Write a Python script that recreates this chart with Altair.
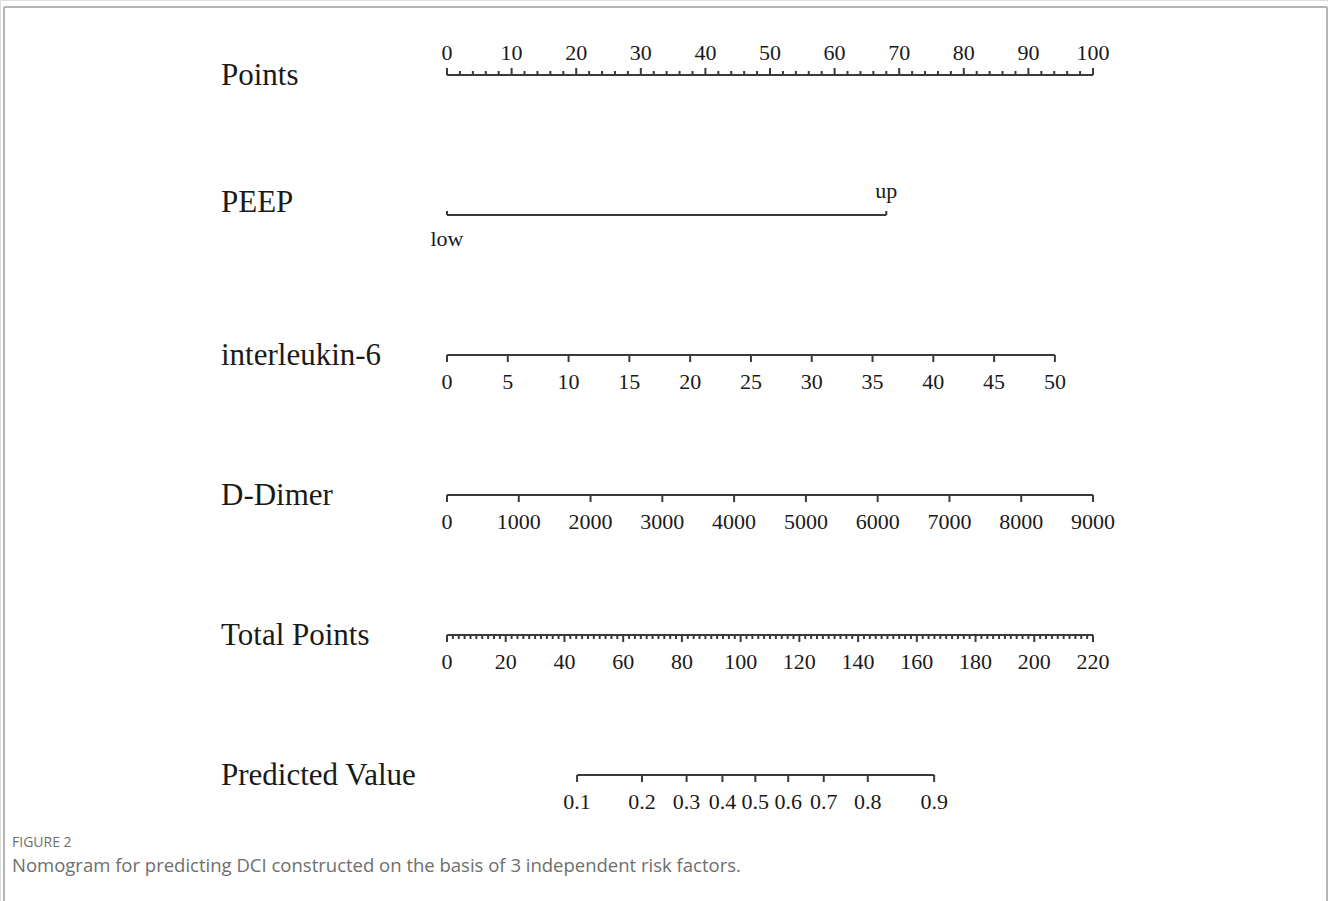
import altair as alt
import pandas as pd

# ---- nomogram content -------------------------------------------------------
ROW_NAMES = ["Points", "PEEP", "interleukin-6", "D-Dimer", "Total Points", "Predicted Value"]

# Points scale (0-100): labelled every 10, small ticks every 2
points_major = list(range(0, 101, 10))
points_minor = [v for v in range(0, 101, 2) if v % 10]

# PEEP: two levels and the points each one earns
peep_levels = ["low", "up"]
peep_score = [0, 68]

# interleukin-6: values 0-50, top value worth 94.1 points
il6_values = list(range(0, 51, 5))
il6_max_score = 94.1

# D-Dimer: values 0-9000, top value worth 100 points
ddimer_values = list(range(0, 9001, 1000))
ddimer_max_score = 100.0

# Total points: 0-220, labelled every 20, small ticks every 2
total_major = list(range(0, 221, 20))
total_minor = [v for v in range(0, 221, 2) if v % 20]
total_max = 220

# Predicted value and the total points at which each probability sits
pred_labels = ["0.1", "0.2", "0.3", "0.4", "0.5", "0.6", "0.7", "0.8", "0.9"]
pred_total = [44.3, 66.4, 81.6, 93.8, 105.0, 116.2, 128.3, 143.3, 165.9]

CAPTION_HEAD = "FIGURE 2"
CAPTION_TEXT = "Nomogram for predicting DCI constructed on the basis of 3 independent risk factors."

# ---- tables on the common points scale ---------------------------------------
def to_pts(v, vmax, score_max):
    return v / vmax * score_max

lines, ticks, labels = [], [], []

# row 0: Points
lines.append(dict(row=0, start=0, end=100))
ticks += [dict(row=0, x=v, kind="up_major") for v in points_major]
ticks += [dict(row=0, x=v, kind="up_minor") for v in points_minor]
labels += [dict(row=0, x=v, text=str(v), side="above") for v in points_major]

# row 1: PEEP
lines.append(dict(row=1, start=min(peep_score), end=max(peep_score)))
ticks += [dict(row=1, x=s, kind="up_minor") for s in peep_score]
labels.append(dict(row=1, x=peep_score[0], text=peep_levels[0], side="below_cat"))
labels.append(dict(row=1, x=peep_score[1], text=peep_levels[1], side="above_cat"))

# row 2: interleukin-6
lines.append(dict(row=2, start=0, end=to_pts(max(il6_values), max(il6_values), il6_max_score)))
for v in il6_values:
    x = to_pts(v, max(il6_values), il6_max_score)
    ticks.append(dict(row=2, x=x, kind="down_major"))
    labels.append(dict(row=2, x=x, text=str(v), side="below"))

# row 3: D-Dimer
lines.append(dict(row=3, start=0, end=ddimer_max_score))
for v in ddimer_values:
    x = to_pts(v, max(ddimer_values), ddimer_max_score)
    ticks.append(dict(row=3, x=x, kind="down_major"))
    labels.append(dict(row=3, x=x, text=str(v), side="below"))

# row 4: Total Points
lines.append(dict(row=4, start=0, end=100))
for v in total_major:
    x = to_pts(v, total_max, 100)
    ticks.append(dict(row=4, x=x, kind="down_major"))
    labels.append(dict(row=4, x=x, text=str(v), side="below"))
ticks += [dict(row=4, x=to_pts(v, total_max, 100), kind="down_minor") for v in total_minor]

# row 5: Predicted Value
pred_x = [to_pts(t, total_max, 100) for t in pred_total]
lines.append(dict(row=5, start=min(pred_x), end=max(pred_x)))
for lab, x in zip(pred_labels, pred_x):
    ticks.append(dict(row=5, x=x, kind="down_major"))
    labels.append(dict(row=5, x=x, text=lab, side="below"))

lines_df = pd.DataFrame(lines)
ticks_df = pd.DataFrame(ticks)
labels_df = pd.DataFrame(labels)
titles_df = pd.DataFrame({"row": list(range(len(ROW_NAMES))), "name": ROW_NAMES})
one = pd.DataFrame({"k": [0]})

# ---- styling ------------------------------------------------------------------
SERIF = "Liberation Serif"
INK = "#1a1a1a"
LINE = "#3a3a3a"
TITLE_SIZE = 31
TICK_SIZE = 22

X_SCALE = alt.Scale(domain=[0, 100], range=[447, 1093])
X = alt.X("x:Q", scale=X_SCALE, axis=None)
Y = alt.Y("row:Q", scale=alt.Scale(domain=[0, 5], range=[75, 775]), axis=None)
Y2 = alt.Y2("row:Q")

axis_lines = alt.Chart(lines_df).mark_rule(color=LINE, strokeWidth=2).encode(
    x=alt.X("start:Q", scale=X_SCALE, axis=None),
    x2="end:Q",
    y=Y,
)


def tick_layer(kind, y2off):
    return (
        alt.Chart(ticks_df)
        .transform_filter(alt.datum.kind == kind)
        .mark_rule(color=LINE, strokeWidth=2, y2Offset=y2off)
        .encode(x=X, y=Y, y2=Y2)
    )


tick_layers = [
    tick_layer("up_major", -7),
    tick_layer("up_minor", -4),
    tick_layer("down_major", 7),
    tick_layer("down_minor", 4),
]


def label_layer(side, dy):
    return (
        alt.Chart(labels_df)
        .transform_filter(alt.datum.side == side)
        .mark_text(font=SERIF, fontSize=TICK_SIZE, color=INK, baseline="middle", align="center", dy=dy)
        .encode(x=X, y=Y, text="text:N")
    )


label_layers = [
    label_layer("above", -22),
    label_layer("below", 27),
    label_layer("above_cat", -24),
    label_layer("below_cat", 24),
]

titles_main = (
    alt.Chart(titles_df)
    .transform_filter(alt.datum.name != "PEEP")
    .mark_text(font=SERIF, fontSize=TITLE_SIZE, color=INK, align="left", baseline="middle", dy=1)
    .encode(x=alt.value(221), y=Y, text="name:N")
)
titles_peep = (
    alt.Chart(titles_df)
    .transform_filter(alt.datum.name == "PEEP")
    .mark_text(font=SERIF, fontSize=TITLE_SIZE, color=INK, align="left", baseline="middle", dy=-12)
    .encode(x=alt.value(221), y=Y, text="name:N")
)

# figure frame (open at the bottom)
frame_color = "#b4b4b4"
frame_top = alt.Chart(one).mark_rule(color=frame_color, strokeWidth=2).encode(
    x=alt.value(4), x2=alt.value(1327), y=alt.value(7)
)
frame_left = alt.Chart(one).mark_rule(color=frame_color, strokeWidth=2).encode(
    x=alt.value(4), y=alt.value(7), y2=alt.value(901)
)
frame_right = alt.Chart(one).mark_rule(color=frame_color, strokeWidth=2).encode(
    x=alt.value(1327), y=alt.value(7), y2=alt.value(901)
)

caption_head = alt.Chart(one).mark_text(
    text=CAPTION_HEAD, font="Open Sans", fontSize=14, color="#6e6e6e", align="left", baseline="middle"
).encode(x=alt.value(12), y=alt.value(843))
caption_body = alt.Chart(one).mark_text(
    text=CAPTION_TEXT, font="Open Sans", fontSize=18.5, color="#6e6e6e", align="left", baseline="middle"
).encode(x=alt.value(12), y=alt.value(866))

chart = (
    alt.layer(
        axis_lines,
        *tick_layers,
        *label_layers,
        titles_main,
        titles_peep,
        frame_top,
        frame_left,
        frame_right,
        caption_head,
        caption_body,
    )
    .properties(width=1328, height=901, autosize=alt.AutoSizeParams(type="none"), padding=0)
    .configure_view(stroke=None)
    .configure(background="white")
)

chart.save("out.html", embed_options={"renderer": "svg", "actions": False})
